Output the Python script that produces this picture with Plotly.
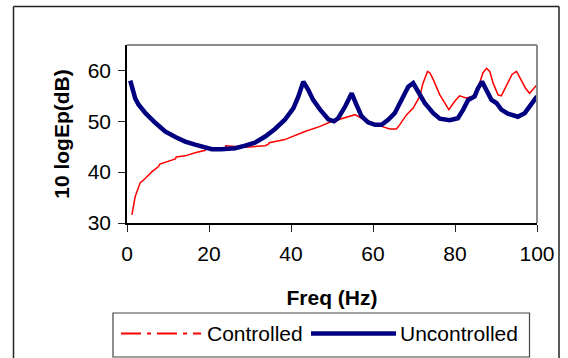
import plotly.graph_objects as go

# ---------------- data ----------------
freq_uncontrolled = [0.8, 1.5, 2.0, 2.8, 4.5, 6.9, 9.3, 11.8, 14.2, 16.6, 18.7, 20.7,
                     23.0, 25.5, 26.4, 28.8, 31.2, 33.7, 36.1, 38.5, 40.6, 41.8, 43.0,
                     44.2, 45.4, 47.1, 49.1, 50.5, 51.5, 53.2, 54.8, 56.0, 57.2, 58.8,
                     60.5, 62.1, 63.7, 65.3, 67.0, 68.6, 69.8, 71.0, 72.6, 74.7, 76.3,
                     78.7, 80.7, 82.0, 83.2, 84.8, 85.6, 86.6, 87.7, 88.9, 90.1, 91.3,
                     92.9, 95.3, 97.0, 98.6, 100.0]
db_uncontrolled = [58.0, 55.8, 54.5, 53.3, 51.6, 49.7, 48.0, 46.9, 46.0, 45.4, 44.9, 44.5,
                   44.5, 44.5, 44.7, 45.2, 45.8, 47.0, 48.5, 50.3, 52.6, 54.9, 57.8,
                   56.2, 54.2, 52.3, 50.4, 50.0, 50.6, 52.9, 55.5, 53.2, 51.0, 49.8,
                   49.3, 49.3, 50.3, 51.6, 54.2, 56.8, 57.5, 55.9, 53.6, 51.6, 50.5,
                   50.2, 50.6, 52.3, 54.2, 54.9, 56.5, 57.8, 55.9, 54.2, 53.6, 52.3,
                   51.5, 50.9, 51.6, 53.2, 54.9]

freq_controlled = [1.2, 2.0, 3.2, 4.5, 6.1, 7.7, 8.0, 9.3, 11.8, 12.0, 14.2, 16.6, 19.1,
                   19.3, 21.5, 23.9, 24.1, 28.8, 33.7, 34.5, 34.7, 38.5, 43.4, 47.1,
                   50.0, 51.5, 54.8, 55.6, 57.2, 59.6, 62.1, 64.1, 65.7, 66.5, 68.2,
                   69.8, 71.4, 72.2, 73.3, 73.9, 74.7, 76.3, 77.5, 78.5, 79.9, 81.1,
                   82.7, 84.3, 85.6, 86.8, 87.7, 88.5, 89.3, 90.5, 91.3, 92.5, 93.9,
                   95.0, 96.0, 97.2, 98.2, 99.0, 100.0]
db_controlled = [31.6, 35.2, 37.9, 38.8, 40.1, 41.1, 41.6, 41.9, 42.6, 43.0, 43.2, 43.8, 44.3,
                 44.8, 44.5, 44.5, 45.2, 44.9, 45.2, 45.5, 45.8, 46.4, 48.0, 49.0,
                 50.0, 50.3, 51.1, 51.3, 50.6, 49.8, 49.0, 48.5, 48.5, 49.3, 51.3,
                 52.6, 54.9, 57.5, 59.8, 59.5, 58.2, 55.2, 53.6, 52.3, 53.9, 55.0,
                 54.6, 54.9, 56.5, 59.5, 60.4, 59.8, 57.5, 55.2, 55.0, 56.8, 59.2,
                 59.8, 58.2, 56.5, 55.5, 56.2, 57.2]

x_ticks = [0, 20, 40, 60, 80, 100]
y_ticks = [30, 40, 50, 60]
series_names = ["Controlled", "Uncontrolled"]
x_title = "Freq (Hz)"
y_title = "10 logEp(dB)"

# ---------------- layout constants ----------------
W, H = 568, 358
ML, MR, MT, MB = 127, 31, 45, 135
PW, PH = W - ML - MR, H - MT - MB
FONT = "Liberation Sans, Arial, sans-serif"
RED = "#FF0000"
NAVY = "#000080"


def px(x):
    return (x - ML) / PW


def py(y):
    return (H - MB - y) / PH


fig = go.Figure()
fig.add_trace(go.Scatter(x=freq_controlled, y=db_controlled, mode="lines",
                         name=series_names[0], line=dict(color=RED, width=1.5),
                         showlegend=False))
fig.add_trace(go.Scatter(x=freq_uncontrolled, y=db_uncontrolled, mode="lines",
                         name=series_names[1], line=dict(color=NAVY, width=4.5),
                         showlegend=False))

axis_common = dict(showgrid=False, zeroline=False, showline=True, linecolor="#000000",
                   linewidth=1.5, ticks="outside", ticklen=7, tickwidth=1.2,
                   tickcolor="#222222", tickfont=dict(family=FONT, size=21, color="#000000"))

fig.update_layout(
    width=W, height=H,
    margin=dict(l=ML, r=MR, t=MT, b=MB, autoexpand=False),
    paper_bgcolor="white", plot_bgcolor="white",
    showlegend=False,
    xaxis=dict(range=[0, 100], tickvals=x_ticks, ticklabelstandoff=4,
               title=dict(text="<b>" + x_title + "</b>", standoff=26,
                          font=dict(family=FONT, size=21, color="#000000")),
               **axis_common),
    yaxis=dict(range=[30, 65], tickvals=y_ticks, ticklabelstandoff=3,
               title=dict(text="<b>" + y_title + "</b>", standoff=12,
                          font=dict(family=FONT, size=21, color="#000000")),
               **axis_common),
    # overlay axes to give the "cross" tick marks (inside half)
    xaxis2=dict(overlaying="x", matches="x", anchor="y", side="bottom", range=[0, 100],
                tickvals=x_ticks, ticks="inside", ticklen=7, tickwidth=1.2,
                tickcolor="#222222", showticklabels=False, showgrid=False,
                zeroline=False, showline=False),
    yaxis2=dict(overlaying="y", matches="y", anchor="x", side="left", range=[30, 65],
                tickvals=y_ticks, ticks="inside", ticklen=4, tickwidth=1.2,
                tickcolor="#222222", showticklabels=False, showgrid=False,
                zeroline=False, showline=False),
)

shapes = []
# gray top / right plot-area border
shapes.append(dict(type="line", xref="x domain", yref="y domain", x0=0, x1=1, y0=1, y1=1,
                   line=dict(color="#8c8c8c", width=2)))
shapes.append(dict(type="line", xref="x domain", yref="y domain", x0=1, x1=1, y0=0, y1=1,
                   line=dict(color="#8c8c8c", width=2)))
# outer chart frame
for (x0, y0, x1, y1) in [(13.5, 6.5, 559, 6.5), (13.5, 6.5, 13.5, 370), (559, 6.5, 559, 370)]:
    shapes.append(dict(type="line", xref="paper", yref="paper",
                       x0=px(x0), y0=py(y0), x1=px(x1), y1=py(y1),
                       line=dict(color="#222222", width=1.5)))
# legend box
shapes.append(dict(type="rect", xref="paper", yref="paper",
                   x0=px(113), x1=px(529.5), y0=py(313), y1=py(357),
                   line=dict(color="#444444", width=1.2), fillcolor="white"))
# legend samples
shapes.append(dict(type="line", xref="paper", yref="paper",
                   x0=px(121), x1=px(201), y0=py(333.5), y1=py(333.5),
                   line=dict(color=RED, width=2, dash="20px,6px,4px,6px")))
shapes.append(dict(type="line", xref="paper", yref="paper",
                   x0=px(311), x1=px(396), y0=py(333.5), y1=py(333.5),
                   line=dict(color=NAVY, width=4.5)))
fig.update_layout(shapes=shapes)

fig.add_annotation(xref="paper", yref="paper", x=px(205), y=py(333.5), text=series_names[0],
                   showarrow=False, xanchor="left", yanchor="middle",
                   font=dict(family=FONT, size=21, color="#000000"))
fig.add_annotation(xref="paper", yref="paper", x=px(398), y=py(333.5), text=series_names[1],
                   showarrow=False, xanchor="left", yanchor="middle",
                   font=dict(family=FONT, size=21, color="#000000"))

fig.write_html("out.html", config={"displayModeBar": False},
               post_script="document.body.style.margin='0px';")
